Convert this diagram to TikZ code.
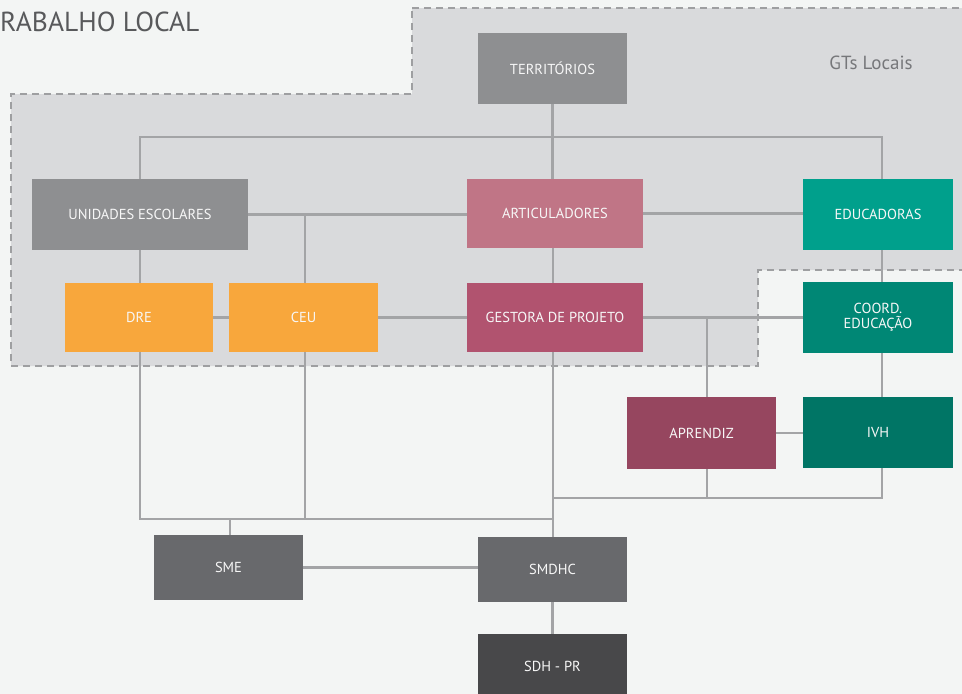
\documentclass[tikz,border=0pt]{standalone}
\usepackage{fontspec}
\setmainfont{PT Sans}
\definecolor{bgc}{HTML}{F3F5F4}
\definecolor{zonec}{HTML}{D9DADC}
\definecolor{dashc}{HTML}{9E9FA1}
\definecolor{linec}{HTML}{A3A4A6}
\definecolor{titlec}{HTML}{58595B}
\definecolor{gtc}{HTML}{76777A}
\definecolor{greyA}{HTML}{8E8F91}
\definecolor{greyB}{HTML}{68696C}
\definecolor{greyC}{HTML}{48484A}
\definecolor{pinkA}{HTML}{C07586}
\definecolor{pinkB}{HTML}{B1536F}
\definecolor{pinkC}{HTML}{96465F}
\definecolor{tealA}{HTML}{00A08C}
\definecolor{tealB}{HTML}{008775}
\definecolor{tealC}{HTML}{007565}
\definecolor{orangeA}{HTML}{F8A73C}
\tikzset{
  box/.style={rectangle, inner sep=0pt, outer sep=0pt, text=white!94!gray,
    font=\fontsize{14.5}{16}\selectfont, align=center},
  conn/.style={draw=linec, line width=2.3pt},
  zone/.style={draw=dashc, line width=1.5pt, dash pattern=on 7pt off 5pt, fill=zonec}
}
\begin{document}
\begin{tikzpicture}[x=1pt,y=-1pt]
\useasboundingbox (0,0) rectangle (962,694);
\clip (0,0) rectangle (962,694);
\fill[bgc] (0,0) rectangle (962,694);
% dashed zone
\draw[zone] (412,8) -- (966,8) -- (966,270) -- (758,270) -- (758,366) -- (11,366) -- (11,94) -- (412,94) -- cycle;
% texts
\node[anchor=west, text=titlec, font=\fontsize{27.5}{30}\selectfont, inner sep=0pt] (title) at (0,22) {RABALHO LOCAL};
\node[text=gtc, font=\fontsize{19}{21}\selectfont, inner sep=0pt] (gts) at (871,63) {GTs Locais};
% helper coordinates
\coordinate (cA) at (140,0);
\coordinate (cB) at (305,0);
\coordinate (cC) at (553,0);
\coordinate (cD) at (707,0);
\coordinate (cE) at (882,0);
\coordinate (cF) at (230,0);
\coordinate (r1) at (0,137);
\coordinate (r4) at (0,498);
\coordinate (r5) at (0,519);
% boxes
\node[box, fill=greyA, minimum width=149pt, minimum height=71pt] (terr) at (552.5,68.5) {TERRITÓRIOS};
\node[box, fill=greyA, minimum width=216pt, minimum height=71pt] (unid) at (140,214.5) {UNIDADES ESCOLARES};
\node[box, fill=pinkA, minimum width=176pt, minimum height=69pt] (art) at (555,213.5) {ARTICULADORES};
\node[box, fill=tealA, minimum width=150pt, minimum height=71pt] (educ) at (878,214.5) {EDUCADORAS};
\node[box, fill=orangeA, minimum width=148pt, minimum height=69pt] (dre) at (139,317.5) {DRE};
\node[box, fill=orangeA, minimum width=149pt, minimum height=69pt] (ceu) at (303.5,317.5) {CEU};
\node[box, fill=pinkB, minimum width=176pt, minimum height=69pt] (gest) at (555,317.5) {GESTORA DE PROJETO};
\node[box, fill=tealB, minimum width=150pt, minimum height=71pt] (coord) at (878,317.5) {COORD.\\[-1pt]EDUCAÇÃO};
\node[box, fill=pinkC, minimum width=149pt, minimum height=72pt] (apr) at (701.5,433) {APRENDIZ};
\node[box, fill=tealC, minimum width=150pt, minimum height=71pt] (ivh) at (878,432.5) {IVH};
\node[box, fill=greyB, minimum width=149pt, minimum height=65pt] (sme) at (228.5,567.5) {SME};
\node[box, fill=greyB, minimum width=149pt, minimum height=65pt] (smdhc) at (552.5,569.5) {SMDHC};
\node[box, fill=greyC, minimum width=149pt, minimum height=64pt] (sdh) at (552.5,666) {SDH - PR};
% connectors
\draw[conn] (terr.south) -- (terr.south |- art.north);
\draw[conn] (unid.north) -- (unid.north |- r1) -- (r1 -| cE) -- (educ.north -| cE);
\draw[conn] (unid.east) -- (unid.east -| art.west);
\draw[conn] (cB |- unid.east) -- (cB |- ceu.north);
\draw[conn] (art.east) -- (art.east -| educ.west);
\draw[conn] (art.south -| cC) -- (gest.north -| cC);
\draw[conn] (unid.south) -- (unid.south |- dre.north);
\draw[conn] (dre.east) -- (ceu.west);
\draw[conn] (ceu.east) -- (ceu.east -| gest.west);
\draw[conn] (gest.east) -- (gest.east -| coord.west);
\draw[conn] (cD |- gest.east) -- (cD |- apr.north);
\draw[conn] (educ.south -| cE) -- (coord.north -| cE);
\draw[conn] (coord.south -| cE) -- (ivh.north -| cE);
\draw[conn] (apr.east) -- (apr.east -| ivh.west);
\draw[conn] (dre.south -| cA) -- (cA |- r5) -- (r5 -| cC);
\draw[conn] (ceu.south -| cB) -- (cB |- r5);
\draw[conn] (cF |- r5) -- (cF |- sme.north);
\draw[conn] (gest.south -| cC) -- (smdhc.north -| cC);
\draw[conn] (cC |- r4) -- (r4 -| cE) -- (ivh.south -| cE);
\draw[conn] (apr.south -| cD) -- (cD |- r4);
\draw[conn] (sme.east) -- (sme.east -| smdhc.west);
\draw[conn] (smdhc.south) -- (sdh.north);
\end{tikzpicture}
\end{document}
